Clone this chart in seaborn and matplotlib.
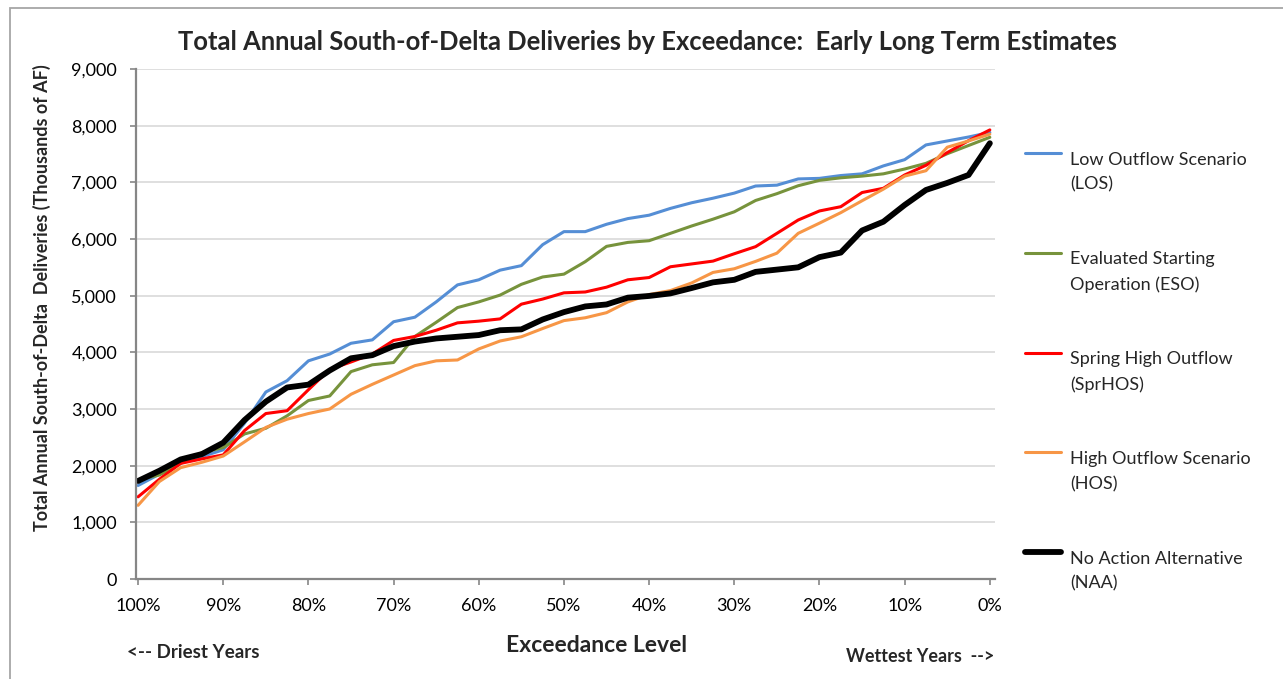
import numpy as np
import pandas as pd
import matplotlib
matplotlib.use("Agg")
import matplotlib.pyplot as plt
import seaborn as sns
from matplotlib.legend_handler import HandlerLine2D
from matplotlib.patches import Rectangle

# exceedance level (%), read every 2.5%
exceedance = [100 - 2.5 * i for i in range(41)]

los = [1650, 1850, 2060, 2160, 2280, 2750, 3300, 3500, 3850, 3970,
       4160, 4220, 4540, 4620, 4890, 5190, 5280, 5450, 5530, 5900,
       6130, 6130, 6260, 6360, 6420, 6540, 6640, 6720, 6810, 6935,
       6950, 7060, 7070, 7120, 7150, 7290, 7400, 7660, 7730, 7800, 7880]
eso = [1750, 1835, 2040, 2230, 2320, 2560, 2660, 2880, 3150, 3230,
       3660, 3780, 3820, 4280, 4530, 4790, 4890, 5010, 5200, 5330,
       5380, 5600, 5870, 5940, 5970, 6100, 6230, 6350, 6480, 6680,
       6800, 6940, 7035, 7080, 7110, 7150, 7235, 7335, 7505, 7650, 7795]
sprhos = [1450, 1760, 2040, 2120, 2190, 2620, 2920, 2970, 3340, 3700,
          3830, 3970, 4210, 4280, 4390, 4520, 4550, 4590, 4850, 4940,
          5050, 5065, 5150, 5280, 5320, 5510, 5560, 5610, 5740, 5865,
          6100, 6335, 6495, 6570, 6820, 6895, 7130, 7300, 7525, 7735, 7925]
hos = [1300, 1720, 1965, 2060, 2170, 2420, 2675, 2820, 2920, 3000,
       3260, 3435, 3600, 3765, 3850, 3865, 4060, 4200, 4275, 4420,
       4560, 4610, 4700, 4890, 5020, 5090, 5225, 5410, 5475, 5605,
       5750, 6100, 6280, 6465, 6675, 6880, 7110, 7205, 7620, 7730, 7850]
naa = [1730, 1910, 2110, 2205, 2405, 2805, 3130, 3380, 3430, 3680,
       3895, 3950, 4110, 4190, 4245, 4275, 4305, 4390, 4405, 4580,
       4710, 4810, 4845, 4965, 4995, 5040, 5135, 5235, 5280, 5420,
       5460, 5500, 5680, 5760, 6150, 6305, 6600, 6865, 6990, 7130, 7690]

labels = ["Low Outflow Scenario\n(LOS)",
          "Evaluated Starting\nOperation (ESO)",
          "Spring High Outflow\n(SprHOS)",
          "High Outflow Scenario\n(HOS)",
          "No Action Alternative\n(NAA)"]
colors = ["#558ED5", "#77933C", "#FF0000", "#F79646", "#000000"]
widths = [2.2, 2.2, 2.2, 2.2, 4.2]

x_ticks = [100, 90, 80, 70, 60, 50, 40, 30, 20, 10, 0]
y_ticks = list(range(0, 9001, 1000))

sns.set_style("white")
plt.rcParams["font.family"] = ["Lato", "DejaVu Sans"]

fig = plt.figure(figsize=(12.83, 6.79), dpi=100)
ax = fig.add_axes([138 / 1283 - 0.0016, 1 - 579 / 679, (995 - 136) / 1283, (579 - 69) / 679])

series = [los, eso, sprhos, hos, naa]
for vals, lab, col, lw in zip(series, labels, colors, widths):
    df = pd.DataFrame({"exceedance": exceedance, "value": vals})
    sns.lineplot(data=df, x="exceedance", y="value", ax=ax, color=col,
                 linewidth=lw, label=lab, solid_joinstyle="round")

ax.set_xlim(100.25, -0.6)
ax.set_ylim(0, 9000)
ax.set_xticks(x_ticks)
ax.set_xticklabels([f"{t}%" for t in x_ticks])
ax.set_yticks(y_ticks)
ax.set_yticklabels([f"{t:,}" for t in y_ticks])
ax.set_xlabel("")
ax.set_ylabel("")
ax.grid(axis="y", color="#d9d9d9", linewidth=1.2)
ax.set_axisbelow(True)
for s in ["top", "right"]:
    ax.spines[s].set_visible(False)
for s in ["left", "bottom"]:
    ax.spines[s].set_color("#868686")
    ax.spines[s].set_linewidth(1.6)
ax.tick_params(axis="both", direction="out", length=4, width=1.2,
               color="#868686", labelsize=13, labelcolor="#000000")
ax.tick_params(axis="x", pad=10, bottom=True)
ax.tick_params(axis="y", pad=9.5, left=True)


class FirstLineHandler(HandlerLine2D):
    # put the legend sample next to the first line of a two-line label
    def create_artists(self, legend, orig_handle, xdescent, ydescent,
                       width, height, fontsize, trans):
        arts = super().create_artists(legend, orig_handle, xdescent, ydescent,
                                      width, height, fontsize, trans)
        for a in arts:
            a.set_ydata(np.asarray(a.get_ydata()) + 1.08 * fontsize)
        return arts


handles, labs = ax.get_legend_handles_labels()
leg = ax.legend(handles, labs, loc="upper left",
                bbox_to_anchor=(1025 / 1283, 1 - 152 / 679),
                bbox_transform=fig.transFigure, frameon=False,
                fontsize=13, handlelength=2.0, handletextpad=0.5,
                labelspacing=3.25, borderpad=0, borderaxespad=0,
                handler_map={h: FirstLineHandler() for h in handles})
for t in leg.get_texts():
    t.set_linespacing(1.65)

fig.text(648 / 1283, 1 - 42 / 679,
         "Total Annual South-of-Delta Deliveries by Exceedance:  Early Long Term Estimates",
         ha="center", va="center", fontsize=18.4, fontweight="bold")
fig.text(42 / 1283, 1 - 298 / 679,
         "Total Annual South-of-Delta  Deliveries (Thousands of AF)",
         ha="center", va="center", rotation=90, fontsize=13, fontweight="bold")
fig.text(596 / 1283, 1 - 645 / 679, "Exceedance Level",
         ha="center", va="center", fontsize=16.5, fontweight="bold")
fig.text(127 / 1283, 1 - 652 / 679, "<-- Driest Years",
         ha="left", va="center", fontsize=13.5, fontweight="bold")
fig.text(994 / 1283, 1 - 657 / 679, "Wettest Years  -->",
         ha="right", va="center", fontsize=13, fontweight="bold")

# outer chart-area border
fig.add_artist(Rectangle((10 / 1283, -0.05), 1.1, 1 - 8 / 679 + 0.05,
                         transform=fig.transFigure, fill=False,
                         edgecolor="#a6a6a6", linewidth=1.3))

fig.savefig("out.png", dpi=100)
